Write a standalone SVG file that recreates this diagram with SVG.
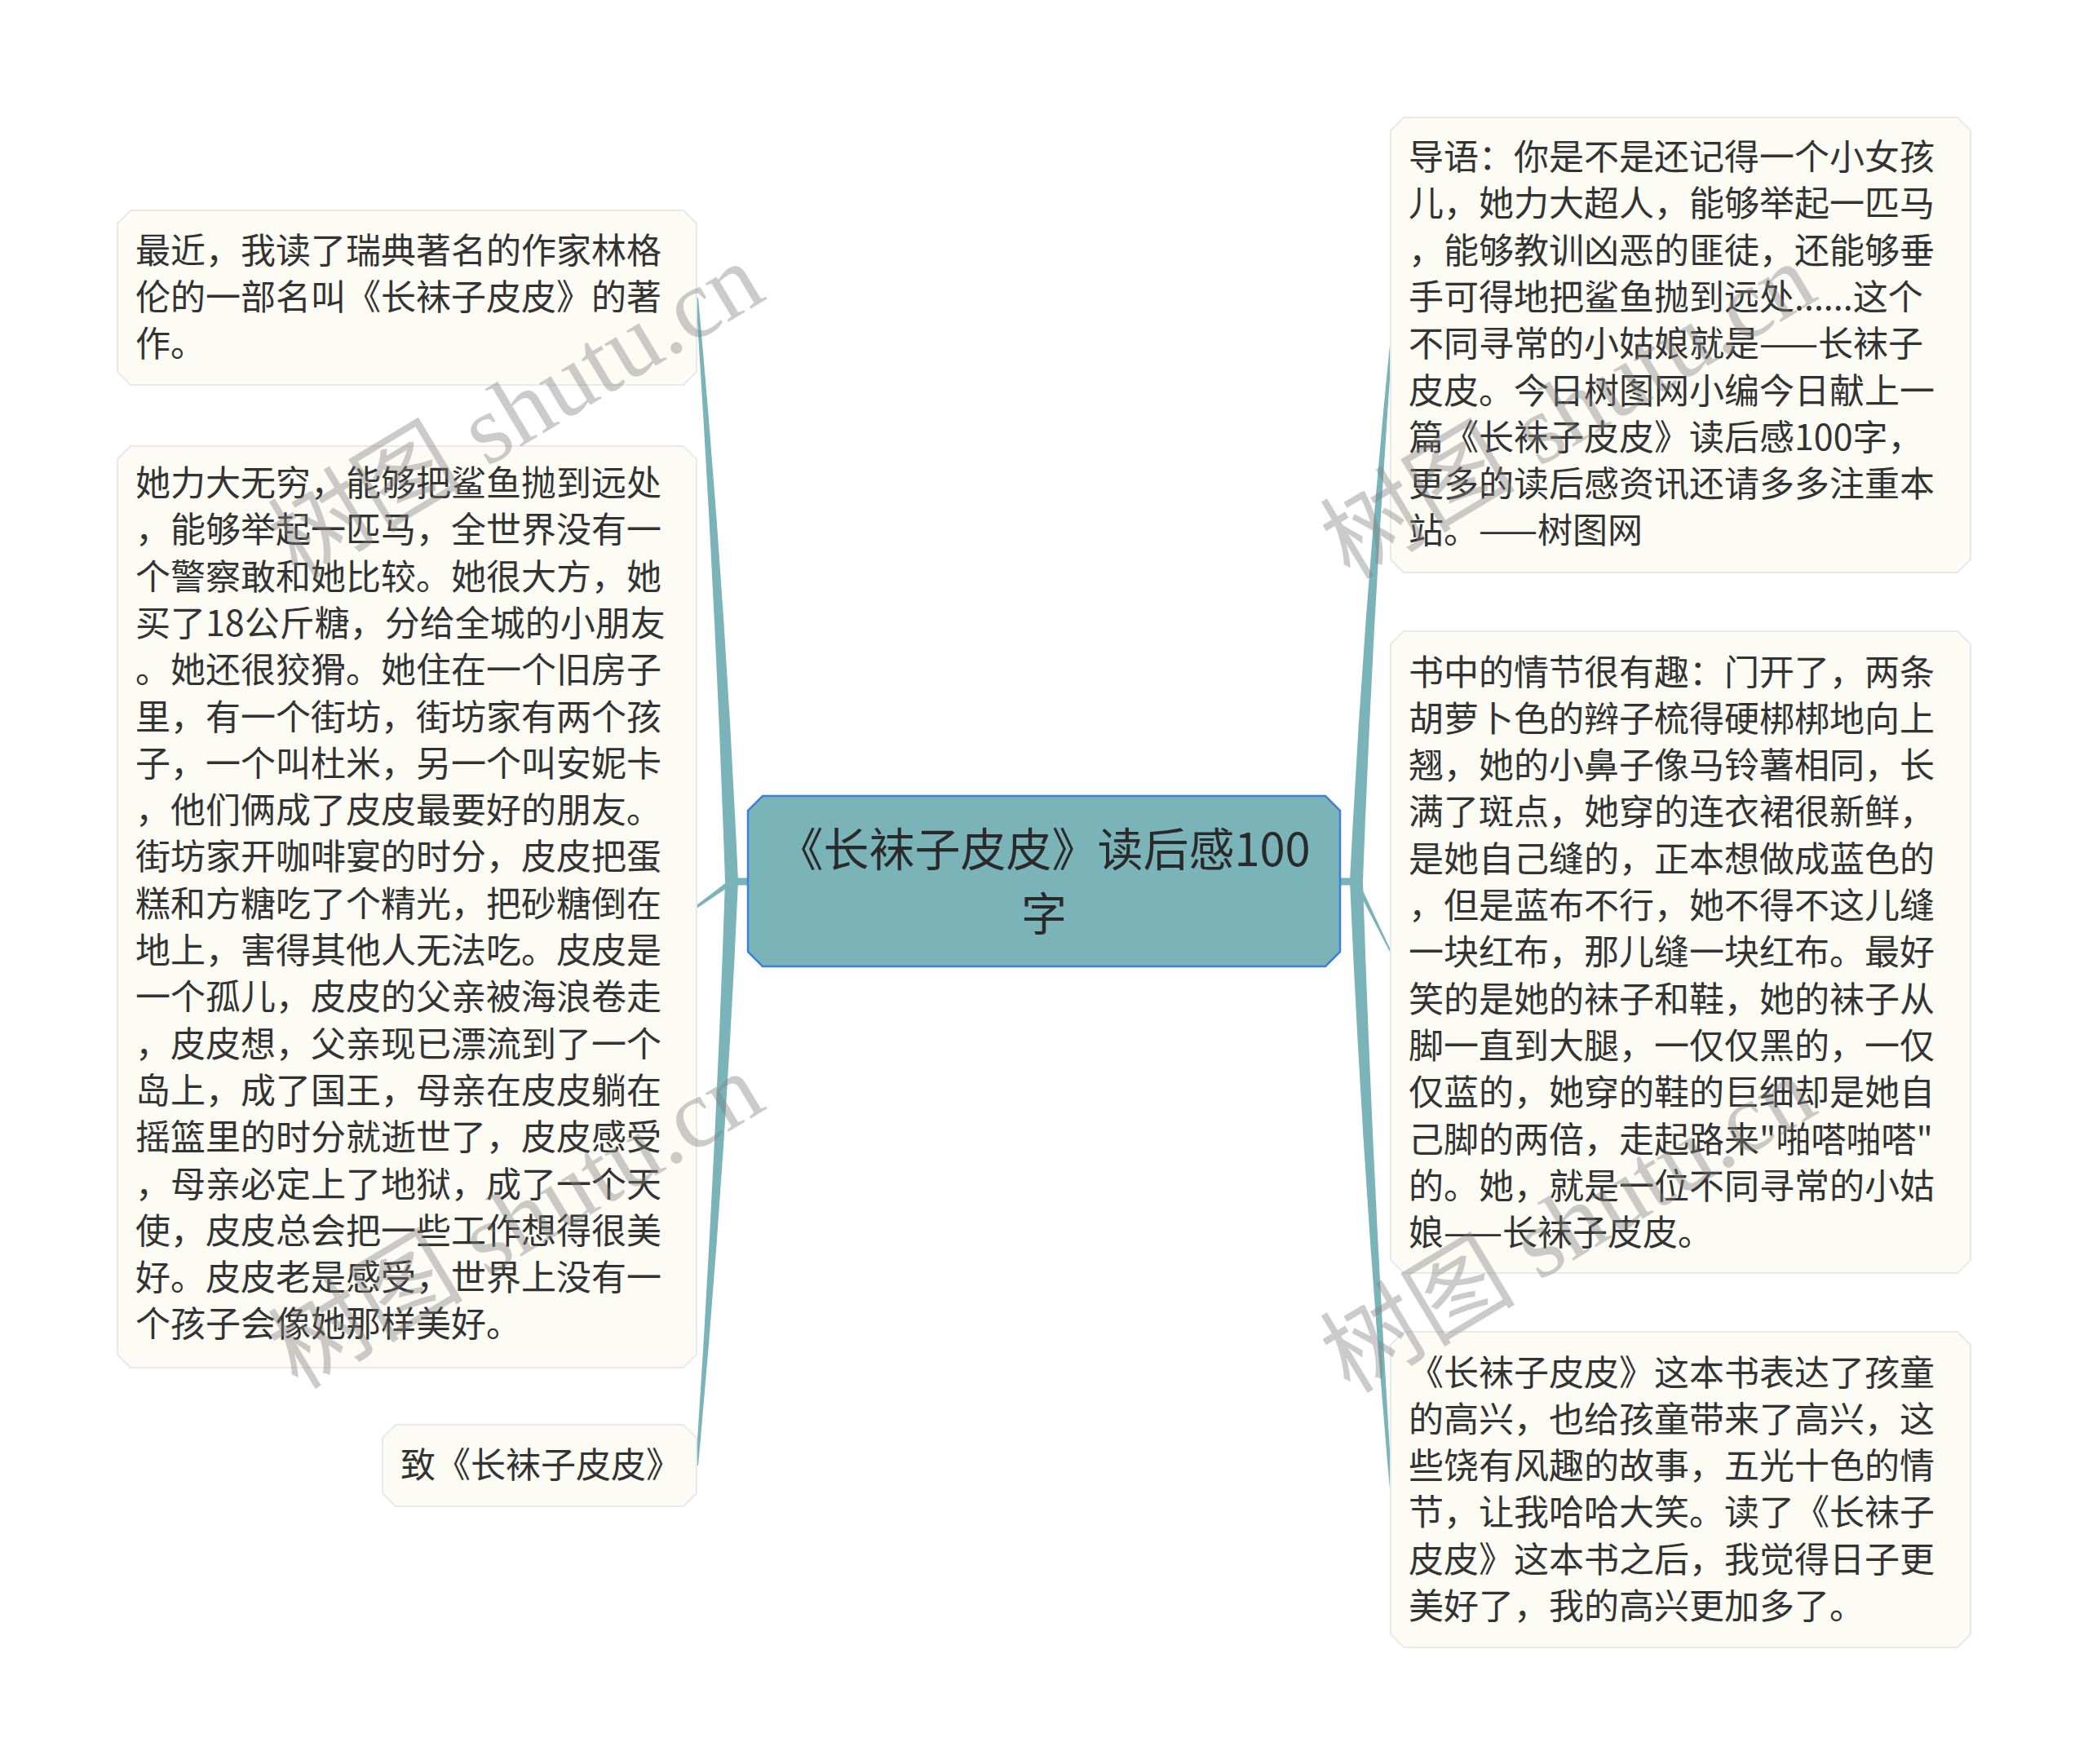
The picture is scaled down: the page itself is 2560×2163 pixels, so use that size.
<svg xmlns="http://www.w3.org/2000/svg" width="2560" height="2163" viewBox="0 0 2560 2163">
<style>
.leaf{fill:#FCFBF4;stroke:#E6EBEA;stroke-width:2}
.root{fill:#7AB3B8;stroke:#3F80DA;stroke-width:2.5}
.conn{fill:#7AB3B8;stroke:none}
.t{font-family:"Noto Sans CJK SC","Noto Sans",sans-serif;font-size:43px;fill:#333333}
.rt{font-family:"Noto Sans CJK SC","Noto Sans",sans-serif;font-size:56px;fill:#2A2A2A}
.wm{font-family:"Liberation Serif","Noto Sans CJK SC",serif;font-size:120px;fill:#808080;opacity:0.4}
</style>
<rect width="2560" height="2163" fill="#FFFFFF"/>
<g id="connectors">
<rect class="conn" x="894" y="1076.5" width="24" height="9"/>
<path class="conn" d="M 889,1081 Q 877,723 853,365 L 856,365 Q 889,723 905,1081 Z"/>
<path class="conn" d="M 897,1077 L 854,1110 L 854,1114 L 897,1085 Z"/>
<path class="conn" d="M 889,1081 Q 877,1439 853,1797 L 856,1797 Q 889,1439 905,1081 Z"/>
<rect class="conn" x="1642" y="1076.5" width="24" height="9"/>
<path class="conn" d="M 1655,1081 Q 1671,752 1704,423 L 1707,423 Q 1683,752 1671,1081 Z"/>
<path class="conn" d="M 1663,1075 L 1705,1165 L 1705,1169 L 1663,1088 Z"/>
<path class="conn" d="M 1655,1081 Q 1671,1453 1704,1826 L 1707,1826 Q 1683,1453 1671,1081 Z"/>
</g>
<g id="root">
<path class="root" d="M 935,976 L 1625,976 L 1643,994 L 1643,1167 L 1625,1185 L 935,1185 L 917,1167 L 917,994 Z"/>
<text class="rt" text-anchor="middle"><tspan x="1280" y="1062">《长袜子皮皮》读后感100</tspan><tspan x="1280" y="1141">字</tspan></text>
</g>
<g id="node-l1">
<path class="leaf" d="M 160,258 L 838,258 L 854,274 L 854,456 L 838,472 L 160,472 L 144,456 L 144,274 Z"/>
<text class="t"><tspan x="166" y="322.5">最近，我读了瑞典著名的作家林格</tspan><tspan x="166" y="379.8">伦的一部名叫《长袜子皮皮》的著</tspan><tspan x="166" y="437.1">作。</tspan></text>
</g>
<g id="node-l2">
<path class="leaf" d="M 160,547 L 838,547 L 854,563 L 854,1661 L 838,1677 L 160,1677 L 144,1661 L 144,563 Z"/>
<text class="t"><tspan x="166" y="608">她力大无穷，能够把鲨鱼抛到远处</tspan><tspan x="166" y="665.3">，能够举起一匹马，全世界没有一</tspan><tspan x="166" y="722.6">个警察敢和她比较。她很大方，她</tspan><tspan x="166" y="779.9">买了18公斤糖，分给全城的小朋友</tspan><tspan x="166" y="837.2">。她还很狡猾。她住在一个旧房子</tspan><tspan x="166" y="894.5">里，有一个街坊，街坊家有两个孩</tspan><tspan x="166" y="951.8">子，一个叫杜米，另一个叫安妮卡</tspan><tspan x="166" y="1009.1">，他们俩成了皮皮最要好的朋友。</tspan><tspan x="166" y="1066.4">街坊家开咖啡宴的时分，皮皮把蛋</tspan><tspan x="166" y="1123.7">糕和方糖吃了个精光，把砂糖倒在</tspan><tspan x="166" y="1181">地上，害得其他人无法吃。皮皮是</tspan><tspan x="166" y="1238.3">一个孤儿，皮皮的父亲被海浪卷走</tspan><tspan x="166" y="1295.6">，皮皮想，父亲现已漂流到了一个</tspan><tspan x="166" y="1352.9">岛上，成了国王，母亲在皮皮躺在</tspan><tspan x="166" y="1410.2">摇篮里的时分就逝世了，皮皮感受</tspan><tspan x="166" y="1467.5">，母亲必定上了地狱，成了一个天</tspan><tspan x="166" y="1524.8">使，皮皮总会把一些工作想得很美</tspan><tspan x="166" y="1582.1">好。皮皮老是感受，世界上没有一</tspan><tspan x="166" y="1639.4">个孩子会像她那样美好。</tspan></text>
</g>
<g id="node-l3">
<path class="leaf" d="M 485,1747 L 838,1747 L 854,1763 L 854,1831 L 838,1847 L 485,1847 L 469,1831 L 469,1763 Z"/>
<text class="t" x="491" y="1812">致《长袜子皮皮》</text>
</g>
<g id="node-r1">
<path class="leaf" d="M 1721,144 L 2400,144 L 2416,160 L 2416,686 L 2400,702 L 1721,702 L 1705,686 L 1705,160 Z"/>
<text class="t"><tspan x="1727" y="208">导语：你是不是还记得一个小女孩</tspan><tspan x="1727" y="265.3">儿，她力大超人，能够举起一匹马</tspan><tspan x="1727" y="322.6">，能够教训凶恶的匪徒，还能够垂</tspan><tspan x="1727" y="379.9">手可得地把鲨鱼抛到远处......这个</tspan><tspan x="1727" y="437.2">不同寻常的小姑娘就是——长袜子</tspan><tspan x="1727" y="494.5">皮皮。今日树图网小编今日献上一</tspan><tspan x="1727" y="551.8">篇《长袜子皮皮》读后感100字，</tspan><tspan x="1727" y="609.1">更多的读后感资讯还请多多注重本</tspan><tspan x="1727" y="666.4">站。——树图网</tspan></text>
</g>
<g id="node-r2">
<path class="leaf" d="M 1721,774 L 2400,774 L 2416,790 L 2416,1545 L 2400,1561 L 1721,1561 L 1705,1545 L 1705,790 Z"/>
<text class="t"><tspan x="1727" y="839.5">书中的情节很有趣：门开了，两条</tspan><tspan x="1727" y="896.8">胡萝卜色的辫子梳得硬梆梆地向上</tspan><tspan x="1727" y="954.1">翘，她的小鼻子像马铃薯相同，长</tspan><tspan x="1727" y="1011.4">满了斑点，她穿的连衣裙很新鲜，</tspan><tspan x="1727" y="1068.7">是她自己缝的，正本想做成蓝色的</tspan><tspan x="1727" y="1126">，但是蓝布不行，她不得不这儿缝</tspan><tspan x="1727" y="1183.3">一块红布，那儿缝一块红布。最好</tspan><tspan x="1727" y="1240.6">笑的是她的袜子和鞋，她的袜子从</tspan><tspan x="1727" y="1297.9">脚一直到大腿，一仅仅黑的，一仅</tspan><tspan x="1727" y="1355.2">仅蓝的，她穿的鞋的巨细却是她自</tspan><tspan x="1727" y="1412.5">己脚的两倍，走起路来"啪嗒啪嗒"</tspan><tspan x="1727" y="1469.8">的。她，就是一位不同寻常的小姑</tspan><tspan x="1727" y="1527.1">娘——长袜子皮皮。</tspan></text>
</g>
<g id="node-r3">
<path class="leaf" d="M 1721,1633 L 2400,1633 L 2416,1649 L 2416,2004 L 2400,2020 L 1721,2020 L 1705,2004 L 1705,1649 Z"/>
<text class="t"><tspan x="1727" y="1698.5">《长袜子皮皮》这本书表达了孩童</tspan><tspan x="1727" y="1755.8">的高兴，也给孩童带来了高兴，这</tspan><tspan x="1727" y="1813.1">些饶有风趣的故事，五光十色的情</tspan><tspan x="1727" y="1870.4">节，让我哈哈大笑。读了《长袜子</tspan><tspan x="1727" y="1927.7">皮皮》这本书之后，我觉得日子更</tspan><tspan x="1727" y="1985">美好了，我的高兴更加多了。</tspan></text>
</g>
<g id="watermarks">
<text class="wm" transform="translate(365,712) rotate(-31)">树图 shutu.cn</text>
<text class="wm" transform="translate(365,1705) rotate(-31)">树图 shutu.cn</text>
<text class="wm" transform="translate(1655,712) rotate(-31)">树图 shutu.cn</text>
<text class="wm" transform="translate(1655,1710) rotate(-31)">树图 shutu.cn</text>
</g>
</svg>
